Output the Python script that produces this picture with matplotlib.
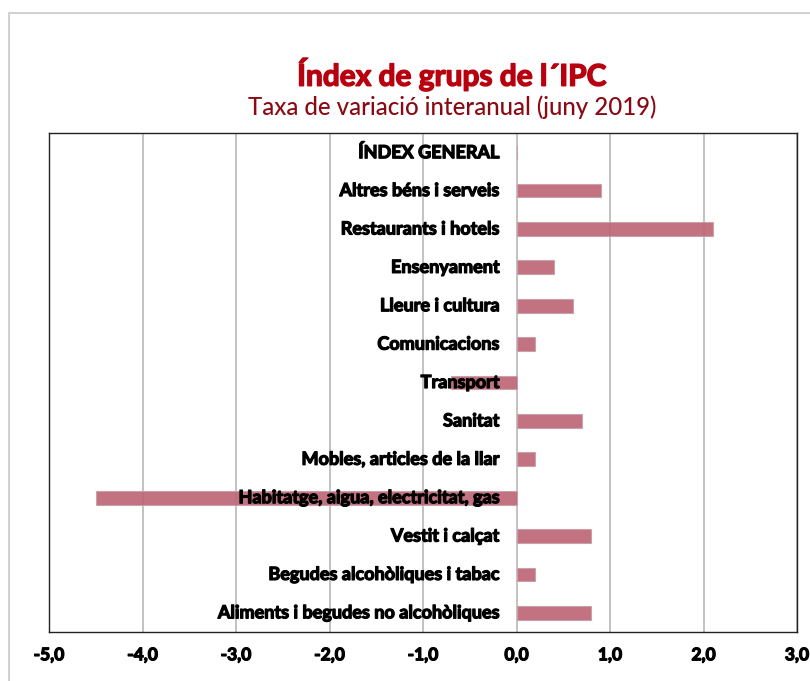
import matplotlib
matplotlib.use("Agg")
import matplotlib.pyplot as plt
from matplotlib.patches import Rectangle
import matplotlib.patheffects as pe

# Data (bottom to top)
categories = [
    "Aliments i begudes no alcohòliques",
    "Begudes alcohòliques i tabac",
    "Vestit i calçat",
    "Habitatge, aigua, electricitat, gas",
    "Mobles, articles de la llar",
    "Sanitat",
    "Transport",
    "Comunicacions",
    "Lleure i cultura",
    "Ensenyament",
    "Restaurants i hotels",
    "Altres béns i serveis",
    "ÍNDEX GENERAL",
]
values = [0.8, 0.2, 0.8, -4.5, 0.2, 0.7, -0.7, 0.2, 0.6, 0.4, 2.1, 0.9, 0.0]
xticks = [-5, -4, -3, -2, -1, 0, 1, 2, 3]
xticklabels = ["-5,0", "-4,0", "-3,0", "-2,0", "-1,0", "0,0", "1,0", "2,0", "3,0"]

label_font = ["Lato", "DejaVu Sans"]
title_font = ["Lato", "DejaVu Sans"]

W, H = 810, 681
fig = plt.figure(figsize=(W / 100, H / 100), dpi=100)
fig.patch.set_facecolor("white")

# outer chart-area border
fig.add_artist(Rectangle((9 / W, -0.05), 1.2, (H - 13) / H + 0.05,
                         transform=fig.transFigure, fill=False,
                         edgecolor="#C8C8C8", linewidth=1.2))

heavy = [pe.withStroke(linewidth=0.9, foreground="black")]

ax = fig.add_axes([49 / W, 1 - 632 / H, (797 - 49) / W, (632 - 133) / H])
ypos = list(range(len(categories)))
ax.barh(ypos, values, height=0.36, color="#BE6676", alpha=0.92,
        edgecolor="#C9A0A8", linewidth=0.8, zorder=2)
ax.set_xlim(-5, 3)
ax.set_ylim(-0.5, len(categories) - 0.5)
ax.set_xticks(xticks)
ax.set_xticklabels(xticklabels, fontfamily=label_font, fontweight="bold",
                   fontsize=12.5)
for t in ax.get_xticklabels():
    t.set_path_effects(heavy)
ax.tick_params(axis="x", length=0, pad=11)
ax.set_yticks([])
ax.grid(axis="x", color="#BDBDBD", linewidth=1.3, zorder=1)
ax.set_axisbelow(True)
for s in ax.spines.values():
    s.set_color("#222222")
    s.set_linewidth(1.0)

for y, c in zip(ypos, categories):
    ax.annotate(c, xy=(0, y), xytext=(-17, 0), textcoords="offset pixels",
                ha="right", va="center", fontfamily=label_font,
                fontweight="bold", fontsize=13, color="black", zorder=3,
                path_effects=heavy)

fig.text(452 / W, 1 - 74 / H, "Índex de grups de l´IPC", ha="center",
         va="center", fontfamily=title_font, fontweight="bold",
         fontsize=21.5, color="#B8000F",
         path_effects=[pe.withStroke(linewidth=1.0, foreground="#B8000F")])
fig.text(452 / W, 1 - 107 / H, "Taxa de variació interanual (juny 2019)",
         ha="center", va="center", fontfamily=title_font, fontweight="medium",
         fontsize=17.3, color="#8A0A14")

fig.savefig("out.png", dpi=100)
